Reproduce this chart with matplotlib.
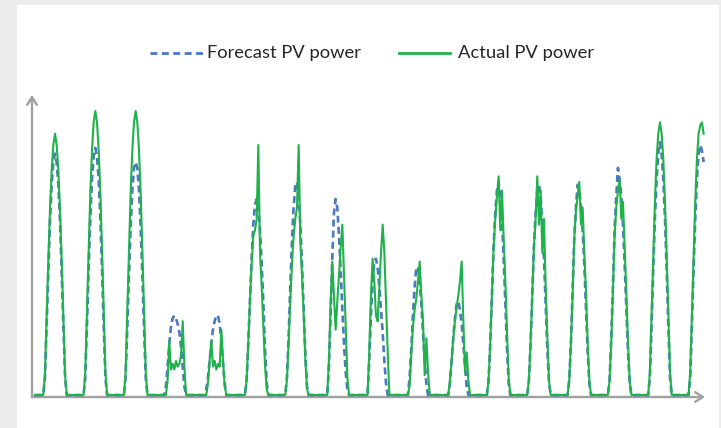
import numpy as np
import matplotlib
matplotlib.use('Agg')
import matplotlib.pyplot as plt
from matplotlib.lines import Line2D
from matplotlib.patches import Rectangle

plt.rcParams['lines.scale_dashes'] = False

# ---------------- data (normalised PV power, hourly, hours 5..19 of each day) ----
hours = list(range(5, 20))
series_labels = ['Forecast PV power', 'Actual PV power']

actual_days = [
    [0, 7, 27, 47, 65, 79, 88, 92, 88, 79, 65, 47, 27, 7, 0],
    [0, 8, 29, 51, 71, 86, 96, 100, 96, 86, 71, 51, 29, 8, 0],
    [0, 8, 29, 51, 71, 86, 96, 100, 96, 86, 71, 51, 29, 8, 0],
    [0, 0, 5, 19, 9, 11, 9, 12, 10, 11, 14, 26, 10, 0, 0],
    [0, 0, 4, 12, 19, 10, 12, 9, 11, 10, 23, 12, 3, 0, 0],
    [0, 5, 18, 33, 46, 56, 58, 62, 88, 50, 38, 24, 10, 2, 0],
    [0, 5, 18, 33, 46, 56, 62, 66, 88, 54, 42, 28, 12, 2, 0],
    [0, 0, 12, 32, 47, 35, 23, 33, 42, 52, 60, 42, 25, 6, 0],
    [0, 0, 15, 35, 48, 40, 28, 26, 38, 50, 60, 50, 32, 15, 0],
    [0, 0, 3, 14, 24, 30, 34, 40, 47, 35, 26, 7, 20, 8, 0],
    [0, 0, 5, 12, 20, 26, 31, 35, 40, 47, 26, 8, 15, 5, 0],
    [0, 5, 18, 35, 52, 62, 70, 77, 58, 72, 55, 40, 22, 6, 0],
    [0, 5, 18, 35, 52, 62, 77, 60, 72, 50, 62, 38, 20, 5, 0],
    [0, 5, 18, 35, 55, 65, 70, 75, 60, 66, 50, 36, 18, 5, 0],
    [0, 5, 18, 36, 56, 66, 72, 76, 62, 68, 52, 36, 18, 5, 0],
    [0, 8, 28, 49, 68, 83, 92, 96, 92, 83, 68, 49, 28, 8, 0],
    [0, 8, 28, 49, 68, 83, 92, 95, 96, 92],
]

forecast_days = [
    [0, 6, 24, 43, 61, 74, 82, 85, 82, 74, 61, 43, 24, 6, 0],
    [0, 6, 24, 44, 62, 76, 84, 87, 84, 76, 62, 44, 24, 6, 0],
    [0, 6, 23, 42, 59, 72, 80, 82, 80, 72, 59, 42, 23, 6, 0],
    [0, 3, 10, 18, 24, 27, 28, 27, 25, 22, 17, 10, 3, 0, 0],
    [0, 2, 6, 12, 18, 23, 26, 28, 28, 25, 19, 11, 4, 0, 0],
    [0, 5, 18, 33, 48, 60, 67, 69, 66, 58, 46, 32, 16, 4, 0],
    [0, 6, 20, 38, 54, 66, 74, 75, 70, 60, 46, 30, 14, 3, 0],
    [0, 0, 10, 28, 48, 64, 69, 66, 56, 44, 30, 18, 8, 2, 0],
    [0, 0, 12, 28, 40, 47, 48, 45, 38, 30, 22, 12, 4, 0, 0],
    [0, 0, 6, 16, 28, 38, 45, 45, 40, 32, 22, 12, 4, 0, 0],
    [0, 0, 4, 12, 20, 27, 32, 33, 30, 25, 18, 10, 3, 0, 0],
    [0, 5, 18, 35, 52, 64, 72, 75, 70, 62, 48, 32, 16, 4, 0],
    [0, 5, 18, 35, 52, 64, 72, 74, 70, 60, 48, 32, 16, 4, 0],
    [0, 5, 18, 36, 55, 66, 74, 72, 66, 58, 46, 30, 15, 4, 0],
    [0, 5, 20, 38, 58, 70, 80, 76, 70, 60, 46, 30, 15, 4, 0],
    [0, 6, 24, 44, 62, 76, 85, 89, 85, 76, 62, 44, 24, 6, 0],
    [0, 6, 24, 44, 62, 76, 85, 88, 86, 82],
]


def to_series(day_lists):
    """Hourly time axis; night hours are zero power."""
    t, v = [], []
    for d, vals in enumerate(day_lists):
        day_vals = {h: x for h, x in zip(hours, vals)}
        last_h = hours[len(vals) - 1]
        for h in range(0, 24):
            if h > last_h and d == len(day_lists) - 1:
                break
            t.append(d * 24 + h)
            v.append(day_vals.get(h, 0))
    return np.array(t, float), np.array(v, float)


t_f, v_f = to_series(forecast_days)
t_a, v_a = to_series(actual_days)

# ---------------- figure -----------------------------------------------------
W, H = 721, 428
fig = plt.figure(figsize=(W / 100, H / 100), dpi=100)
fig.patch.set_facecolor('#ececec')
fig.add_artist(Rectangle((17 / W, 0), (719 - 17) / W, (H - 5) / H,
                         transform=fig.transFigure, facecolor='white',
                         edgecolor='none', zorder=0))

ax_left, ax_right, ax_top, ax_bottom = 32, 705, 95, 397
ax = fig.add_axes([ax_left / W, 1 - ax_bottom / H,
                   (ax_right - ax_left) / W, (ax_bottom - ax_top) / H])
ax.set_facecolor('none')

pph = 40.33 / 24.0  # pixels per hour
x0 = 12 - (55 - ax_left) / pph
x1 = 12 + (ax_right - 55) / pph
ax.set_xlim(x0, x1)
ax.set_ylim(-0.7, -0.7 + (ax_bottom - ax_top) / 2.84)

blue = '#4a78c2'
green = '#1fb24a'
lf, = ax.plot(t_f, v_f, color=blue, lw=1.9, zorder=2, clip_on=False)
lf.set_dashes([5, 3])
la, = ax.plot(t_a, v_a, color=green, lw=1.5, zorder=3, clip_on=False)

for s in ax.spines.values():
    s.set_visible(False)
ax.set_xticks([])
ax.set_yticks([])

axis_col = '#a0a0a0'
arrow = dict(arrowstyle='->,head_length=0.55,head_width=0.35', color=axis_col,
             lw=1.7, shrinkA=0, shrinkB=0)
ax.annotate('', xy=(0, 1), xytext=(0, 0), xycoords='axes fraction',
            textcoords='axes fraction', arrowprops=arrow, zorder=1)
ax.annotate('', xy=(1, 0), xytext=(0, 0), xycoords='axes fraction',
            textcoords='axes fraction', arrowprops=arrow, zorder=1)

# ---------------- legend ----------------------------------------------------
font = 'Lato'
ly = 53
fig.add_artist(Line2D([150 / W, 205 / W], [1 - ly / H] * 2, color=blue, lw=2.0,
                      dashes=[5, 3.2], transform=fig.transFigure))
fig.add_artist(Line2D([399 / W, 450 / W], [1 - ly / H] * 2, color=green, lw=2.0,
                      transform=fig.transFigure))
t1 = fig.text(207 / W, 1 - ly / H, series_labels[0], ha='left', va='center',
              fontsize=14, family=font, color='#262626')
t2 = fig.text(458 / W, 1 - ly / H, series_labels[1], ha='left', va='center',
              fontsize=14, family=font, color='#262626')
fig.canvas.draw()
r = fig.canvas.get_renderer()
w1 = t1.get_window_extent(r).width
t1.set_fontsize(14 * 155 / w1)
t2.set_fontsize(14 * 155 / w1)

fig.savefig('out.png', dpi=100, facecolor=fig.get_facecolor())
